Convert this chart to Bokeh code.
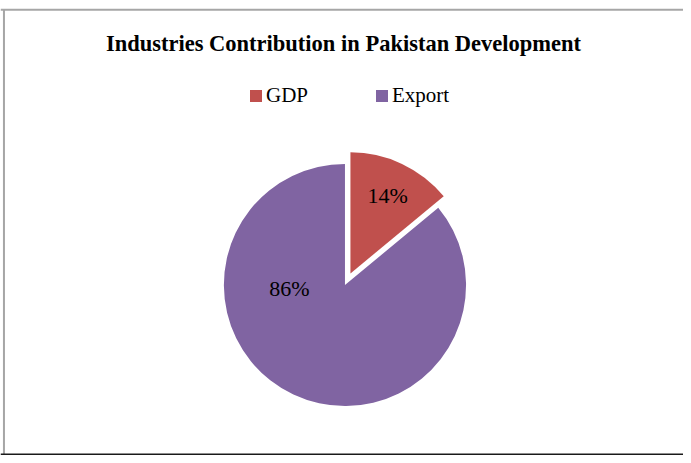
import math
from bokeh.plotting import figure
from bokeh.models import Range1d, Legend, LegendItem, Span, ColumnDataSource
from bokeh.core.properties import value
from bokeh.embed import file_html
from bokeh.resources import INLINE

title_text = "Industries Contribution in Pakistan Development"
categories = ["GDP", "Export"]
values = [14, 86]
colors = ["#C0504D", "#8064A2"]

FONT = "Liberation Serif"

W, H = 683, 455
p = figure(width=W, height=H, output_backend="svg", toolbar_location=None,
           x_range=Range1d(0, 691), y_range=Range1d(0, 463), min_border=0)
p.axis.visible = False
p.grid.visible = False
p.outline_line_color = None
p.background_fill_color = "white"
p.border_fill_color = "white"

# chart-area borders
p.add_layout(Span(location=453.5, dimension="width", line_color="#a6a6a6", line_width=2))
p.add_layout(Span(location=1.0, dimension="width", line_color="#1a1a1a", line_width=2))
p.segment(x0=[3.5], y0=[1.0], x1=[3.5], y1=[453.5], line_color="#a6a6a6", line_width=2)

cx, cy, r = 348.5, 173.5, 122.5
explode = {"GDP": 13.0, "Export": 0.0}
label_pos = {"GDP": (None, 0.72), "Export": (183.5, 0.46)}

total = sum(values)
start = 90.0
xs, ys, sa, ea, lx, ly, lt = [], [], [], [], [], [], []
for cat, v in zip(categories, values):
    span = v / total * 360.0
    end = start - span  # clockwise
    mid = math.radians((start + end) / 2)
    d = explode[cat]
    x0 = cx + d * math.cos(mid)
    y0 = cy + d * math.sin(mid)
    xs.append(x0); ys.append(y0)
    sa.append(math.radians(end)); ea.append(math.radians(start))
    ang, frac = label_pos[cat]
    a = mid if ang is None else math.radians(ang)
    lx.append(x0 + frac * r * math.cos(a)); ly.append(y0 + frac * r * math.sin(a))
    lt.append(f"{round(v / total * 100)}%")
    start = end

src = ColumnDataSource(dict(x=xs, y=ys, sa=sa, ea=ea, color=colors, cat=categories))
p.wedge(x="x", y="y", radius=r, start_angle="sa", end_angle="ea", source=src,
        fill_color="color", line_color=None)

p.text(x=lx, y=ly, text=lt, text_font=value(FONT), text_font_size="22px",
       text_color="black", text_align="center", text_baseline="middle")

p.text(x=[347], y=[419], text=[title_text], text_font=value(FONT),
       text_font_size="22.5px", text_font_style="bold", text_color="black",
       text_align="center", text_baseline="middle")

# legend proxies (drawn outside the visible range)
items = []
for cat, c in zip(categories, colors):
    rr = p.quad(left=[-50], right=[-40], top=[-40], bottom=[-50], fill_color=c, line_color=None)
    items.append(LegendItem(label=cat, renderers=[rr]))
legend = Legend(items=items, orientation="horizontal", location=(248.0, 347.5),
                glyph_width=15, glyph_height=15, label_standoff=3, spacing=66,
                padding=0, margin=0, border_line_color=None, background_fill_alpha=0,
                label_text_font=FONT, label_text_font_size="21px", label_text_color="black")
p.add_layout(legend, "center")

open("out.html", "w").write(file_html(p, INLINE))
